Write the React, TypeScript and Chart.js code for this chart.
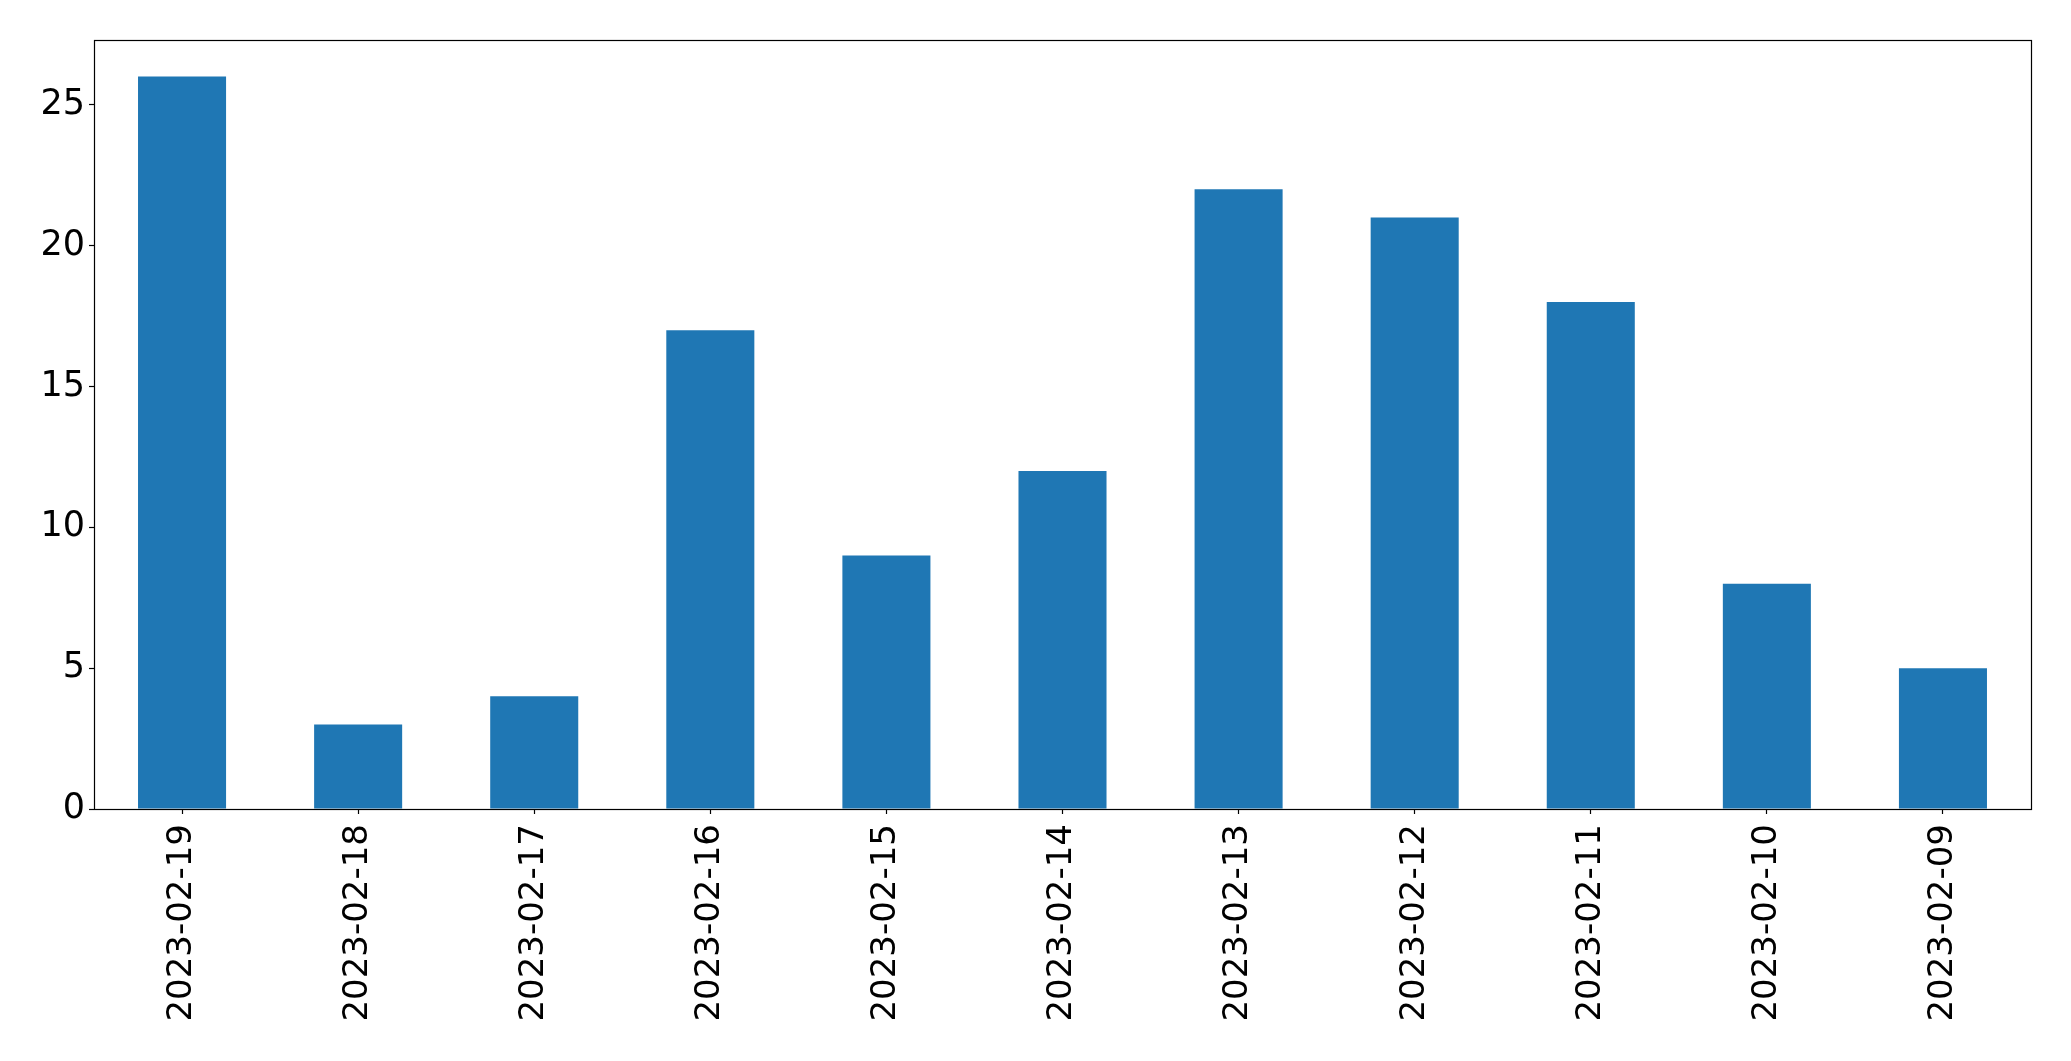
import React, { useEffect, useRef } from "react";
import { Chart, registerables } from "chart.js";

Chart.register(...registerables);

const categories = [
  "2023-02-19", "2023-02-18", "2023-02-17", "2023-02-16", "2023-02-15", "2023-02-14",
  "2023-02-13", "2023-02-12", "2023-02-11", "2023-02-10", "2023-02-09",
];
const counts = [26, 3, 4, 17, 9, 12, 22, 21, 18, 8, 5];
const yTicks = [0, 5, 10, 15, 20, 25];
const yMax = 27.3;

const W = 2071;
const H = 1061;

const framePlugin = {
  id: "frame",
  afterDraw(chart: any) {
    const { ctx, chartArea } = chart;
    ctx.save();
    ctx.strokeStyle = "#000";
    ctx.lineWidth = 1.2;
    ctx.strokeRect(
      Math.round(chartArea.left) + 0.5,
      Math.round(chartArea.top) + 0.5,
      Math.round(chartArea.right - chartArea.left),
      Math.round(chartArea.bottom - chartArea.top)
    );
    ctx.restore();
  },
};

export default function App() {
  const ref = useRef<HTMLCanvasElement | null>(null);
  useEffect(() => {
    if (!ref.current) return;
    const font = { family: "'DejaVu Sans', sans-serif", size: 34 };
    const chart = new Chart(ref.current, {
      type: "bar",
      data: {
        labels: categories,
        datasets: [
          {
            data: counts,
            backgroundColor: "#1f77b4",
            borderWidth: 0,
            barPercentage: 0.5,
            categoryPercentage: 1.0,
          },
        ],
      },
      options: {
        responsive: false,
        animation: false,
        devicePixelRatio: 1,
        layout: { padding: { left: 0, top: 40, right: 40, bottom: 0 } },
        plugins: { legend: { display: false }, tooltip: { enabled: false } },
        scales: {
          x: {
            type: "category",
            offset: true,
            grid: {
              display: true,
              offset: false,
              drawOnChartArea: false,
              drawTicks: true,
              tickLength: 5,
              tickColor: "#000",
              tickWidth: 1.2,
            },
            border: { display: false },
            ticks: {
              color: "#000",
              font,
              minRotation: 90,
              maxRotation: 90,
              autoSkip: false,
              padding: 10,
            },
            afterFit(scale: any) {
              scale.height = H - 809;
            },
          },
          y: {
            min: 0,
            max: yMax,
            grid: {
              display: true,
              drawOnChartArea: false,
              drawTicks: true,
              tickLength: 5,
              tickColor: "#000",
              tickWidth: 1.2,
            },
            border: { display: false },
            ticks: { color: "#000", font: { ...font, size: 35 }, padding: 4 },
            afterBuildTicks(scale: any) {
              scale.ticks = yTicks.map((v) => ({ value: v }));
            },
            afterFit(scale: any) {
              scale.width = 94;
            },
          },
        },
      },
      plugins: [framePlugin],
    });
    return () => chart.destroy();
  }, []);
  return (
    <div style={{ position: "fixed", left: 0, top: 0, width: W, height: H, background: "#fff" }}>
      <canvas ref={ref} width={W} height={H} style={{ display: "block", width: W, height: H }} />
    </div>
  );
}
